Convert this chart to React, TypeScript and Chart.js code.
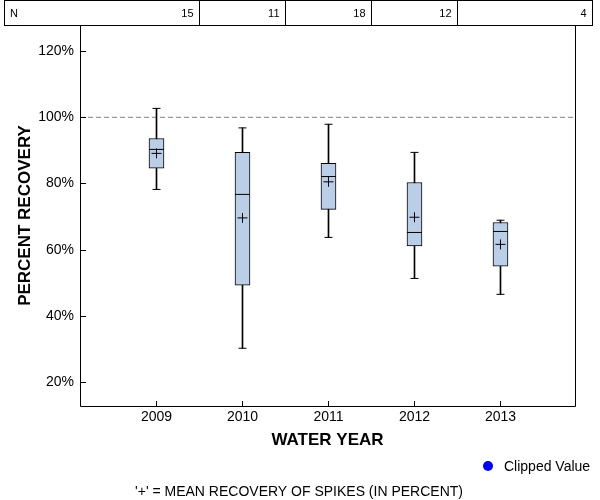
import React, { useEffect, useRef } from "react";
import { Chart, registerables } from "chart.js";

Chart.register(...registerables);

const years = [2009, 2010, 2011, 2012, 2013];
const counts = [15, 11, 18, 12, 4];
const whiskerLow = [78.2, 30.2, 63.7, 51.3, 46.5];
const q1 = [84.6, 49.3, 72.2, 61.1, 55.0];
const medians = [90.3, 76.7, 82.1, 65.2, 65.5];
const q3 = [93.6, 89.4, 86.1, 80.3, 68.2];
const whiskerHigh = [102.7, 96.8, 97.9, 89.4, 68.9];
const means = [89.1, 69.6, 80.5, 69.8, 61.6];
const yTicks = [20, 40, 60, 80, 100, 120];
const referenceLine = 100;

const X_MIN = 2008.1105;
const X_MAX = 2013.8665;
const Y_MIN = 12.75;
const Y_MAX = 127.9;

const FONT = "'Liberation Sans', Arial, sans-serif";
const BOX_FILL = "#bacfe7";

const extrasPlugin = {
  id: "extras",
  afterDatasetsDraw(chart: any) {
    const { ctx, chartArea, scales } = chart;
    const xs = scales.x;
    const ys = scales.y;
    const { left, right, top, bottom } = chartArea;
    ctx.save();
    ctx.strokeStyle = "#000";
    ctx.lineWidth = 1;
    // frame: left, bottom, right
    ctx.beginPath();
    ctx.moveTo(Math.round(left) + 0.5, top);
    ctx.lineTo(Math.round(left) + 0.5, Math.round(bottom) + 0.5);
    ctx.lineTo(Math.round(right) + 0.5, Math.round(bottom) + 0.5);
    ctx.lineTo(Math.round(right) + 0.5, top);
    ctx.stroke();
    // inward ticks
    ctx.beginPath();
    years.forEach((v) => {
      const px = Math.floor(xs.getPixelForValue(v)) + 0.5;
      ctx.moveTo(px, Math.round(bottom));
      ctx.lineTo(px, Math.round(bottom) - 5);
    });
    yTicks.forEach((v) => {
      const py = Math.round(ys.getPixelForValue(v)) + 0.5;
      ctx.moveTo(Math.round(left), py);
      ctx.lineTo(Math.round(left) + 6, py);
    });
    ctx.stroke();

    // N table
    const tTop = 0.5;
    const tBottom = Math.round(top) + 0.5;
    const tLeft = 4.5;
    const tRight = 592.5;
    ctx.strokeRect(tLeft, tTop, tRight - tLeft, tBottom - tTop);
    ctx.beginPath();
    const bounds: number[] = [];
    for (let i = 0; i < years.length - 1; i++) {
      const px = Math.floor(xs.getPixelForValue((years[i] + years[i + 1]) / 2)) + 0.5;
      bounds.push(px);
      ctx.moveTo(px, tTop);
      ctx.lineTo(px, tBottom);
    }
    bounds.push(tRight);
    ctx.stroke();
    ctx.fillStyle = "#000";
    ctx.font = `11px ${FONT}`;
    ctx.textBaseline = "middle";
    const ty = (tTop + tBottom) / 2 + 1;
    ctx.textAlign = "left";
    ctx.fillText("N", 10, ty);
    ctx.textAlign = "right";
    counts.forEach((n, i) => {
      ctx.fillText(String(n), bounds[i] - 6, ty);
    });

    // legend
    ctx.fillStyle = "#0000ff";
    ctx.beginPath();
    ctx.arc(488, 466, 5, 0, Math.PI * 2);
    ctx.fill();
    ctx.fillStyle = "#000";
    ctx.font = `14px ${FONT}`;
    ctx.textAlign = "left";
    ctx.fillText("Clipped Value", 504, 467);
    // footnote
    ctx.textAlign = "center";
    ctx.fillText("'+' = MEAN RECOVERY OF SPIKES (IN PERCENT)", 299, 492);
    ctx.restore();
  },
};

export default function App() {
  const canvasRef = useRef<HTMLCanvasElement | null>(null);

  useEffect(() => {
    const canvas = canvasRef.current;
    if (!canvas) return;
    const chart = new Chart(canvas, {
      type: "bar",
      data: {
        datasets: [
          {
            type: "line",
            label: "ref",
            data: [
              { x: X_MIN, y: referenceLine },
              { x: X_MAX, y: referenceLine },
            ],
            borderColor: "#808080",
            borderWidth: 1,
            borderDash: [5, 3],
            pointRadius: 0,
            order: 10,
          } as any,
          {
            type: "bar",
            label: "whiskers",
            data: years.map((x, i) => ({ x, y: [whiskerLow[i], whiskerHigh[i]] })),
            backgroundColor: "#000",
            borderWidth: 0,
            barThickness: 1,
            grouped: false,
            order: 9,
          } as any,
          {
            type: "bar",
            label: "box",
            data: years.map((x, i) => ({ x, y: [q1[i], q3[i]] })),
            backgroundColor: BOX_FILL,
            borderColor: "#000",
            borderWidth: 1,
            borderSkipped: false,
            barThickness: 15,
            grouped: false,
            order: 5,
          } as any,
          {
            type: "scatter",
            label: "caps",
            data: [
              ...years.map((x, i) => ({ x, y: whiskerLow[i] })),
              ...years.map((x, i) => ({ x, y: whiskerHigh[i] })),
            ],
            pointStyle: "line",
            pointRadius: 4,
            borderColor: "#000",
            borderWidth: 1,
            order: 3,
          } as any,
          {
            type: "scatter",
            label: "median",
            data: years.map((x, i) => ({ x, y: medians[i] })),
            pointStyle: "line",
            pointRadius: 7.5,
            borderColor: "#000",
            borderWidth: 1,
            order: 2,
          } as any,
          {
            type: "scatter",
            label: "mean",
            data: years.map((x, i) => ({ x, y: means[i] })),
            pointStyle: "cross",
            pointRadius: 5,
            borderColor: "#000",
            borderWidth: 1,
            order: 1,
          } as any,
        ],
      },
      options: {
        responsive: false,
        animation: false,
        devicePixelRatio: 1,
        layout: { padding: { top: 25, right: 25, left: 0, bottom: 0 } },
        plugins: {
          legend: { display: false },
          tooltip: { enabled: false },
        },
        scales: {
          x: {
            type: "linear",
            min: X_MIN,
            max: X_MAX,
            offset: false,
            grid: { display: false, drawTicks: false, offset: false },
            border: { display: false },
            afterBuildTicks: (s: any) => {
              s.ticks = years.map((v) => ({ value: v }));
            },
            afterFit: (s: any) => {
              s.height = 94;
            },
            ticks: {
              padding: 3,
              color: "#000",
              font: { family: FONT, size: 14 },
              callback: (v: any) => String(v),
              maxRotation: 0,
              autoSkip: false,
            },
            title: {
              display: true,
              text: "WATER YEAR",
              color: "#000",
              font: { family: FONT, size: 17, weight: "bold" },
              padding: { top: 0, bottom: 49 },
            },
          },
          y: {
            type: "linear",
            min: Y_MIN,
            max: Y_MAX,
            grid: { display: false, drawTicks: false },
            border: { display: false },
            afterBuildTicks: (s: any) => {
              s.ticks = yTicks.map((v) => ({ value: v }));
            },
            afterFit: (s: any) => {
              s.width = 80;
            },
            ticks: {
              padding: 6,
              color: "#000",
              font: { family: FONT, size: 14 },
              callback: (v: any) => `${v}%`,
            },
            title: {
              display: true,
              text: "PERCENT RECOVERY",
              color: "#000",
              font: { family: FONT, size: 17, weight: "bold" },
              padding: { top: 15, bottom: 0 },
            },
          },
        },
      },
      plugins: [extrasPlugin],
    } as any);
    return () => chart.destroy();
  }, []);

  return (
    <div style={{ position: "absolute", left: 0, top: 0, width: 600, height: 500, background: "#fff" }}>
      <canvas ref={canvasRef} width={600} height={500} />
    </div>
  );
}
